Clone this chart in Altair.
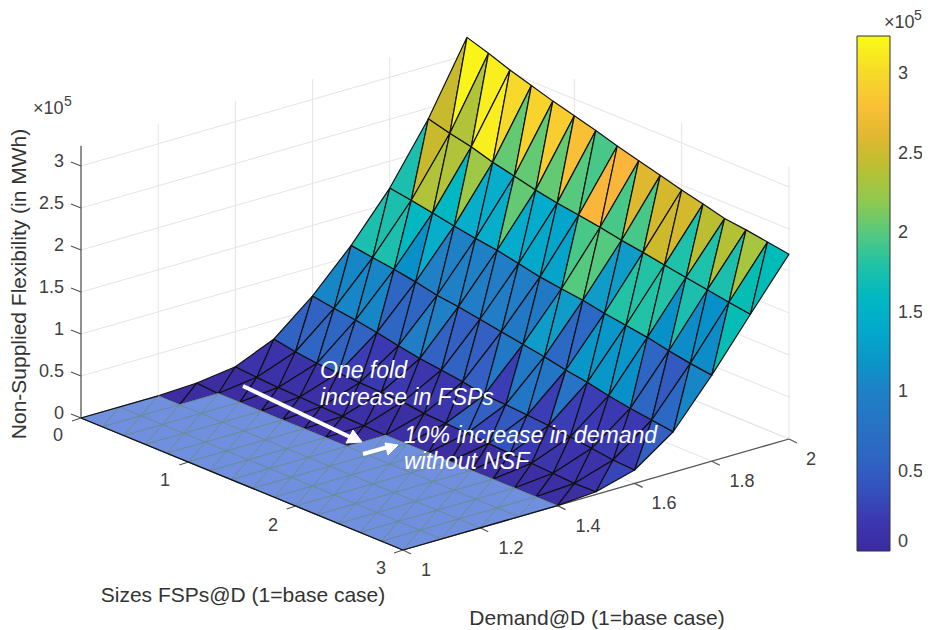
import altair as alt
import pandas as pd

# ---- surface heights (x 1e5 MWh) : rows = demand, columns = FSP size ----
sizes = [0, .2, .4, .6, .8, 1, 1.2, 1.4, 1.6, 1.8, 2, 2.2, 2.4, 2.6, 2.8, 3]
demands = [1, 1.1, 1.2, 1.3, 1.4, 1.5, 1.6, 1.7, 1.8, 1.9, 2]
z_10 = [0]*16
z_11 = [0]*16
z_12 = [0]*16
z_13 = [.02]+[0]*15
z_14 = [.082, .06, .045, .035, .025, .015, .008]+[0]*9
z_15 = [.28, .233, .2, .19, .18, .17, .16, .128, .115, .10, .085, .07, .057, .043, .028, .033]
z_16 = [.66, .618, .583, .54, .487, .44, .407, .373, .32, .31, .29, .27, .24, .208, .174, .16]
z_17 = [1.13, 1.09, 1.055, 1.01, .955, .924, .879, .836, .79, .748, .694, .652, .598, .552, .518, .483]
z_18 = [1.68, 1.64, 1.594, 1.544, 1.50, 1.464, 1.41, 1.356, 1.32, 1.288, 1.237, 1.20, 1.16, 1.106, 1.06, 1.025]
z_19 = [2.374, 2.305, 2.25, 2.17, 2.11, 2.05, 2.0, 1.96, 1.92, 1.87, 1.83, 1.785, 1.74, 1.70, 1.655, 1.617]
z_20 = [3.21, 3.125, 3.03, 2.95, 2.87, 2.80, 2.73, 2.65, 2.58, 2.51, 2.44, 2.38, 2.31, 2.28, 2.24, 2.20]
z_rows = [z_10, z_11, z_12, z_13, z_14, z_15, z_16, z_17, z_18, z_19, z_20]

# ---- face colours (x 1e5): per band, per cell: lower triangle, upper triangle ----
c_19 = [2.5,3.2, 2.35,3.15, 3.15,3.0, 2.05,2.95, 2.05,2.9, 2.05,2.8, 2.0,1.95, 2.72,2.72,
        1.95,2.6, 1.95,2.55, 2.52,2.55, 1.78,2.42, 1.78,2.38, 1.75,2.3, 1.7,1.68]
c_18 = [1.75,2.5, 2.35,2.35, 1.6,2.25, 1.45,1.45, 1.45,2.05, 1.42,1.42, 1.38,1.35, 1.32,1.95,
        2.0,2.0, 1.25,1.25, 1.8,1.8, 1.8,1.8, 1.15,1.75, 1.1,1.15, 1.1,1.7]
c_17 = [1.75,1.75, 1.75,1.6, 1.15,1.45, 1.0,1.0, 1.0,1.0, .95,.95, .95,.95, .9,.9,
        1.25,1.25, .65,.65, 1.2,1.2, 1.2,1.2, 1.15,.6, .6,.45, .65,1.05]
c_16 = [1.05,1.05, 1.05,1.05, 1.05,.6, .6,.6, .95,1.0, .55,.5, .55,.5, .5,.9,
        .25,.9, .85,.85, .25,.8, .25,.25, .2,.2, .2,.2, .2,.5]
c_15 = [.55,.55, .6,.6, .55,.55, .25,.2, .2,.2, .18,.15, .15,.15, .15,.15,
        .5,.5, .3,.45, .4,.35, .2,.15, .15,.12, .12,.12, .12,.3]
c_14 = [.12,.12, .1,.1, .1,.08, .08,.08, .08,.08, .08,.08, .06,.06, .06,.06,
        .06,.06, .05,.05, .05,.05, .05,.05, .05,.05, .05,.05, .05,.05]
c_13 = [.04]*30
c_12 = [.04]*30
c_rows = {3: c_13, 2: c_12, 4: c_14, 5: c_15, 6: c_16, 7: c_17, 8: c_18, 9: c_19}

# ---- colour bar ----
bar_ticks = [0, .5, 1, 1.5, 2, 2.5, 3]
parula_dom = [0, .25, .5, .75, 1, 1.25, 1.5, 1.75, 2, 2.25, 2.5, 2.72, 3, 3.24]
parula_col = ["#3c2a9f", "#3b3db5", "#3360c2", "#2a6fc4", "#1f80c6", "#109cc9", "#0db3cc", "#1cbfae",
              "#55c97e", "#9ec845", "#c9b92c", "#f9b63a", "#f6d92a", "#f9fb15"]

# ---- view (orthographic) : the three axis vectors on the page ----
O = (81.0, 418.0)
per_size = (322/3, 132/3)
per_demand = (386.0, -111.0)
per_z = 84.0

def proj(s, d, z):
    return (O[0] + s*per_size[0] + (d-1)*per_demand[0],
            O[1] + s*per_size[1] + (d-1)*per_demand[1] - z*per_z)

# triangles
tri_rows, flat_rows = [], []
tid = 0
for b in range(10):
    for i in range(15):
        A0 = (sizes[i], demands[b+1], z_rows[b+1][i])
        A1 = (sizes[i+1], demands[b+1], z_rows[b+1][i+1])
        B0 = (sizes[i], demands[b], z_rows[b][i])
        B1 = (sizes[i+1], demands[b], z_rows[b][i+1])
        for t, verts in enumerate([(A0, B0, B1), (A0, A1, B1)]):
            flat = max(v[2] for v in verts) == 0
            for k, v in enumerate(verts + (verts[0],)):
                x, y = proj(*v)
                row = dict(tri=tid, k=k, x=x, y=y)
                if flat:
                    flat_rows.append(row)
                else:
                    row["c"] = c_rows[b][i*2+t]
                    tri_rows.append(row)
            tid += 1

def seg_df(segs):
    rows = []
    for n, (a, b) in enumerate(segs):
        for k, p in enumerate((a, b)):
            x, y = proj(*p)
            rows.append(dict(seg=n, k=k, x=x, y=y))
    return pd.DataFrame(rows)

def seg_screen(segs, dx, dy):
    rows = []
    for n, a in enumerate(segs):
        x, y = proj(*a)
        rows.append(dict(seg=n, k=0, x=x, y=y))
        rows.append(dict(seg=n, k=1, x=x+dx, y=y+dy))
    return pd.DataFrame(rows)

Z_TOP = 3.24
z_ticks = [0, .5, 1, 1.5, 2, 2.5, 3]
s_ticks = [0, 1, 2, 3]
d_ticks = [1, 1.2, 1.4, 1.6, 1.8, 2]

grid = []
for z in z_ticks:
    grid += [((0, 1, z), (0, 2, z)), ((0, 2, z), (3, 2, z))]
for d in d_ticks[1:]:
    grid += [((0, d, 0), (0, d, Z_TOP)), ((0, d, 0), (3, d, 0))]
for s in s_ticks[1:]:
    grid += [((s, 2, 0), (s, 2, Z_TOP)), ((s, 1, 0), (s, 2, 0))]

axes_lines = [((0, 1, 0), (0, 1, Z_TOP)), ((0, 1, 0), (3, 1, 0)), ((3, 1, 0), (3, 2, 0))]
outline = [((0, 1, 0), (0, 1.2, 0)), ((0, 1, 0), (3, 1, 0)), ((3, 1, 0), (3, 1.4, 0))]

X = alt.X("x:Q", axis=None, scale=alt.Scale(domain=[8, 922], nice=False, zero=False))
Y = alt.Y("y:Q", axis=None, scale=alt.Scale(domain=[629, 8], nice=False, zero=False))

def lines(df, color, width, **kw):
    return alt.Chart(df).mark_line(color=color, strokeWidth=width, **kw).encode(
        x=X, y=Y, detail="seg:N", order="k:Q")

color_scale = alt.Scale(domain=parula_dom, range=parula_col)
legend = alt.Legend(title=None, orient="none", legendX=849, legendY=28, gradientLength=515,
                    gradientThickness=33, values=bar_ticks, format="~g", labelFontSize=18,
                    labelColor="#404040", labelFont="Liberation Sans", labelOffset=8,
                    gradientStrokeColor="#333333", gradientStrokeWidth=1, direction="vertical")

surface = alt.Chart(pd.DataFrame(tri_rows)).mark_line(stroke="#111111", strokeWidth=1.2, strokeJoin="round").encode(
    x=X, y=Y, detail="tri:N", order="k:Q",
    fill=alt.Fill("c:Q", scale=color_scale, legend=legend))

flat = alt.Chart(pd.DataFrame(flat_rows)).mark_line(fill="#7090df", stroke="#6a8a9c", strokeWidth=1).encode(
    x=X, y=Y, detail="tri:N", order="k:Q")

# tick marks
tick_df = pd.concat([
    seg_screen([(0, 1, z) for z in z_ticks], -10, -4),
    seg_screen([(s, 1, 0) for s in s_ticks], -9, 3),
    seg_screen([(3, d, 0) for d in d_ticks], 8, 4),
])
tick_df["seg"] = range(len(tick_df))
tick_df["seg"] = tick_df["seg"] // 2

# colour-bar ticks
cb_y = lambda v: 551 - v*159.0
cb_rows = []
for n, v in enumerate(bar_ticks[1:]):
    cb_rows += [dict(seg=n, k=0, x=890, y=cb_y(v)), dict(seg=n, k=1, x=884, y=cb_y(v))]

# text
def labels(texts, xs, ys, size=18, color="#404040", align="center", angle=None, **kw):
    df = pd.DataFrame(dict(t=texts, x=xs, y=ys))
    mk = dict(font="Liberation Sans", fontSize=size, color=color, align=align, baseline="middle")
    if angle is not None:
        mk["angle"] = angle
    mk.update(kw)
    return alt.Chart(df).mark_text(**mk).encode(x=X, y=Y, text="t:N")

z_labels = ["0", "0.5", "1", "1.5", "2", "2.5", "3"]
s_labels = ["0", "1", "2", "3"]
d_labels = ["1", "1.2", "1.4", "1.6", "1.8", "2"]
zl = labels(z_labels, [64]*7, [proj(0, 1, z)[1]-4 for z in z_ticks], align="right")
sl = labels(s_labels, [58, 165, 273, 381], [436, 481, 526, 569])
dl = labels(d_labels, [426, 511, 588, 664, 742, 811], [571, 549, 527, 504, 482, 460])

title_x = labels(["Sizes FSPs@D (1=base case)"], [243], [596], size=21, color="#333333")
title_d = labels(["Demand@D (1=base case)"], [597], [619], size=21, color="#333333")
title_z = labels(["Non-Supplied Flexibility (in MWh)"], [19.5], [284], size=21, color="#333333", angle=270)

exp = labels(["×10", "×10"], [33, 884], [109, 23], size=18, align="left")
exp5 = labels(["5", "5"], [64, 914], [102, 16], size=14, align="left")

note_style = dict(size=23, color="white", align="left", fontStyle="italic")
notes = labels(["One fold", "increase in FSPs", "10% increase in demand", "without NSF"],
               [320, 320, 404, 404], [371, 398, 436, 462], **note_style)

arrow_shaft = pd.DataFrame(dict(seg=[0, 0, 1, 1], k=[0, 1, 0, 1], x=[243, 350, 363, 388], y=[386, 437, 454, 447]))
arrow_head = pd.DataFrame(dict(tri=[0, 0, 0, 0, 1, 1, 1, 1], k=[0, 1, 2, 3, 0, 1, 2, 3],
                               x=[362, 353, 346, 362, 398, 385, 388, 398],
                               y=[442, 430, 443, 442, 445, 443, 455, 445]))
arrows = lines(arrow_shaft, "white", 4) + alt.Chart(arrow_head).mark_line(fill="white", stroke="white", strokeWidth=1).encode(
    x=X, y=Y, detail="tri:N", order="k:Q")

chart = alt.layer(
    lines(seg_df(grid), "#e4e4e4", 1),
    lines(seg_df(axes_lines), "#555555", 1.3),
    lines(tick_df, "#555555", 1.2),
    surface,
    flat,
    lines(seg_df(outline), "#111111", 1.3),
    lines(pd.DataFrame(cb_rows), "#333333", 1),
    zl, sl, dl, title_x, title_d, title_z, exp, exp5,
    arrows, notes,
).properties(width=914, height=621, padding=0,
             autosize=alt.AutoSizeParams(type="none")
).configure_view(stroke=None)

chart.save("out.html", embed_options={"renderer": "svg", "actions": False})
